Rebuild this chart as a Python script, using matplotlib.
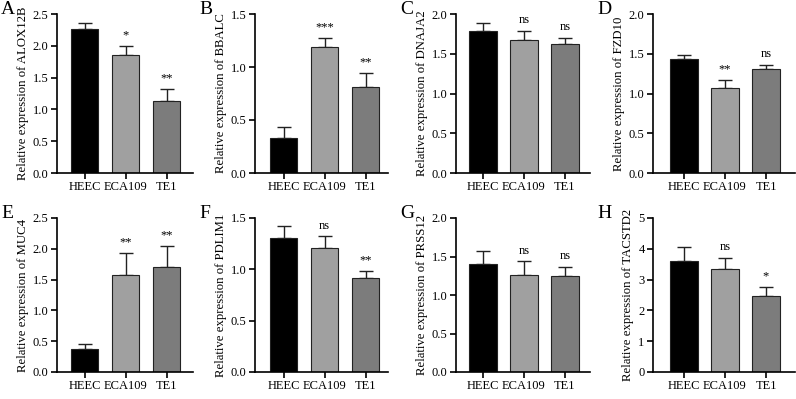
import matplotlib
matplotlib.use('Agg')
import matplotlib.pyplot as plt

plt.rcParams['font.family'] = ['Liberation Serif', 'DejaVu Serif']
plt.rcParams['font.size'] = 9

groups = ['HEEC', 'ECA109', 'TE1']
colors = ['#000000', '#a0a0a0', '#7c7c7c']

letters = ['A', 'B', 'C', 'D', 'E', 'F', 'G', 'H']
genes = ['ALOX12B', 'BBALC', 'DNAJA2', 'FZD10', 'MUC4', 'PDLIM1', 'PRSS12', 'TACSTD2']
means = [
    [2.27, 1.85, 1.13],
    [0.33, 1.19, 0.81],
    [1.78, 1.67, 1.62],
    [1.43, 1.07, 1.31],
    [0.38, 1.58, 1.71],
    [1.31, 1.21, 0.92],
    [1.40, 1.26, 1.25],
    [3.62, 3.34, 2.46],
]
errs = [
    [0.09, 0.14, 0.19],
    [0.10, 0.08, 0.13],
    [0.11, 0.12, 0.08],
    [0.06, 0.10, 0.05],
    [0.07, 0.35, 0.34],
    [0.11, 0.11, 0.06],
    [0.17, 0.18, 0.12],
    [0.43, 0.37, 0.31],
]
sig = [
    ['', '*', '**'],
    ['', '***', '**'],
    ['', 'ns', 'ns'],
    ['', '**', 'ns'],
    ['', '**', '**'],
    ['', 'ns', '**'],
    ['', 'ns', 'ns'],
    ['', 'ns', '*'],
]
ymax = [2.5, 1.5, 2.0, 2.0, 2.5, 1.5, 2.0, 5]
ystep = [0.5, 0.5, 0.5, 0.5, 0.5, 0.5, 0.5, 1]

W, H = 796, 399
fig = plt.figure(figsize=(W / 100, H / 100), dpi=100)

# pixel layout per column: axis left, first bar centre, axis right
cols = [(57, 84.5, 193), (255, 283.5, 388), (456, 483, 590), (653, 684, 795)]
step = 41.0
rows = [(14, 173), (218, 372)]

for i in range(8):
    r, c = divmod(i, 4)
    top, bot = rows[r]
    left, c0, right = cols[c]
    ax = fig.add_axes([left / W, (H - bot) / H, (right - left) / W, (bot - top) / H])
    x = range(3)
    ax.bar(x, means[i], width=0.66, color=colors, edgecolor='#222222', linewidth=0.8,
           zorder=2)
    ax.errorbar(x, means[i], yerr=[[0, 0, 0], errs[i]], fmt='none', ecolor='#222222',
                elinewidth=1.0, capsize=5, capthick=1.0, zorder=1)
    for j in range(3):
        if sig[i][j]:
            yy = means[i][j] + errs[i][j] + ymax[i] * 0.03
            ax.text(j, yy, sig[i][j], ha='center', va='bottom', fontsize=9)
    ax.set_xlim(-(c0 - left) / step, 2 + (right - c0 - 2 * step) / step)
    ax.set_ylim(0, ymax[i])
    n = int(round(ymax[i] / ystep[i]))
    ticks = [k * ystep[i] for k in range(n + 1)]
    ax.set_yticks(ticks)
    if ystep[i] < 1:
        ax.set_yticklabels([f'{t:.1f}' for t in ticks])
    else:
        ax.set_yticklabels([f'{int(t)}' for t in ticks])
    ax.set_xticks(list(x))
    ax.set_xticklabels(groups)
    ax.spines['top'].set_visible(False)
    ax.spines['right'].set_visible(False)
    ax.spines['left'].set_linewidth(1.2)
    ax.spines['bottom'].set_linewidth(1.2)
    ax.tick_params(width=1.2, length=4, labelsize=9, pad=2)
    ax.set_ylabel(f'Relative expression of {genes[i]}', fontsize=9.2, labelpad=3)
    fig.text((left - 56) / W, 1 - (top - 13) / H, letters[i], fontsize=14,
             ha='left', va='top')

fig.savefig('out.png', dpi=100)
